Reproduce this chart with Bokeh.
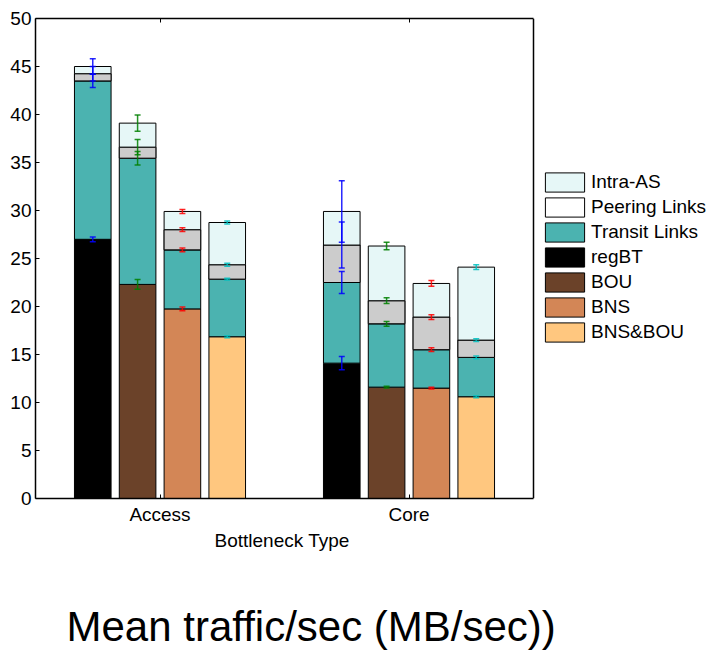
import numpy as np
from bokeh.plotting import figure
from bokeh.models import (ColumnDataSource, Range1d, FixedTicker, LinearAxis,
                          Legend, LegendItem, Title, Whisker, TeeHead, Span)
from bokeh.embed import file_html
from bokeh.resources import INLINE

# ---- data -------------------------------------------------------------
groups = ["Access", "Core"]
schemes = ["regBT", "BOU", "BNS", "BNS&BOU"]

# cumulative top of every stacked layer (MB/sec), one value per scheme
access_base = [27.0, 22.3, 19.75, 16.85]
access_transit = [43.5, 35.45, 25.9, 22.85]
access_peering = [44.25, 36.6, 28.0, 24.35]
access_intra = [45.0, 39.1, 29.9, 28.75]

core_base = [14.1, 11.6, 11.5, 10.6]
core_transit = [22.5, 18.2, 15.5, 14.7]
core_peering = [26.4, 20.6, 18.9, 16.5]
core_intra = [29.9, 26.3, 22.4, 24.1]

# half-length of the error bar drawn at each layer top
access_base_err = [0.25, 0.5, 0.2, 0.1]
access_transit_err = [0.7, 0.7, 0.2, 0.1]
access_peering_err = [0.75, 0.8, 0.2, 0.15]
access_intra_err = [0.8, 0.85, 0.2, 0.15]

core_base_err = [0.7, 0.1, 0.1, 0.1]
core_transit_err = [1.15, 0.25, 0.2, 0.15]
core_peering_err = [2.4, 0.3, 0.25, 0.15]
core_intra_err = [3.2, 0.4, 0.3, 0.25]

# ---- styling ----------------------------------------------------------
FONT = "Liberation Sans"
scheme_colors = ["#000000", "#6B4229", "#D38656", "#FFC77F"]
err_colors = ["#0000FF", "#008000", "#FF0000", "#00BFBF"]
TRANSIT = "#4BB3B0"
PEERING = "#CCCCCC"
INTRA = "#E6F7F7"
offsets = [-0.27, -0.09, 0.09, 0.27]
BAR_W = 0.147

X_LO, X_HI = 0.5, 2.5          # extent of the boxed axes
BOX_W, FRAME_W = 498, 674      # boxed area and full drawing area (px)
x_end = X_LO + (X_HI - X_LO) * FRAME_W / BOX_W   # room for the legend on the right

xs, base, transit, peering, intra, colors = [], [], [], [], [], []
eb, et, ep, ei = [], [], [], []
for gi, (b, t, pe, ia, be, te, pee, iae) in enumerate([
        (access_base, access_transit, access_peering, access_intra,
         access_base_err, access_transit_err, access_peering_err, access_intra_err),
        (core_base, core_transit, core_peering, core_intra,
         core_base_err, core_transit_err, core_peering_err, core_intra_err)]):
    for si in range(len(schemes)):
        xs.append(gi + 1 + offsets[si])
        base.append(b[si]); transit.append(t[si])
        peering.append(pe[si]); intra.append(ia[si])
        eb.append(be[si]); et.append(te[si]); ep.append(pee[si]); ei.append(iae[si])
        colors.append(scheme_colors[si])

src = ColumnDataSource(dict(x=xs, zero=[0] * len(xs), base=base, transit=transit,
                            peering=peering, intra=intra, color=colors))

p = figure(frame_width=FRAME_W, frame_height=480,
           x_range=Range1d(X_LO, x_end), y_range=Range1d(0, 50),
           output_backend="svg", toolbar_location=None,
           min_border_left=35, min_border_right=0, min_border_top=18,
           min_border_bottom=152)
p.xgrid.visible = False
p.ygrid.visible = False
p.outline_line_color = None
p.background_fill_color = "white"
p.border_fill_color = "white"

common = dict(x="x", width=BAR_W, source=src, line_color="black", line_width=1)
r_base = p.vbar(bottom="zero", top="base", fill_color="color", **common)
r_transit = p.vbar(bottom="base", top="transit", fill_color=TRANSIT, **common)
# white under-layer of the peering segment, used as that layer's legend key
r_peer_key = p.vbar(bottom="transit", top="peering", fill_color="white", **common)
r_peer = p.vbar(bottom="transit", top="peering", fill_color=PEERING, **common)
r_intra = p.vbar(bottom="peering", top="intra", fill_color=INTRA, **common)

# error bars, one whisker set per scheme colour
for si in range(len(schemes)):
    idx = [i for i in range(len(xs)) if i % len(schemes) == si]
    ex, up, lo = [], [], []
    for i in idx:
        for top, err in ((base[i], eb[i]), (transit[i], et[i]),
                         (peering[i], ep[i]), (intra[i], ei[i])):
            ex.append(xs[i]); up.append(top + err); lo.append(top - err)
    es = ColumnDataSource(dict(x=ex, upper=up, lower=lo))
    c = err_colors[si]
    w = Whisker(source=es, base="x", upper="upper", lower="lower", dimension="height",
                line_color=c, line_width=1.5, line_alpha=0.85, level="overlay",
                upper_head=TeeHead(size=6, line_color=c, line_width=1.5, line_alpha=0.85),
                lower_head=TeeHead(size=6, line_color=c, line_width=1.5, line_alpha=0.85))
    p.add_layout(w)

# ---- axes -------------------------------------------------------------
def style_axis(ax):
    ax.axis_line_width = 1.5
    ax.major_tick_in = 4
    ax.major_tick_out = 0
    ax.minor_tick_line_color = None
    ax.major_label_text_font = FONT
    ax.major_label_text_font_size = "19px"
    ax.major_label_text_color = "black"

yticks = list(range(0, 51, 5))

yax = p.yaxis[0]
yax.ticker = FixedTicker(ticks=yticks)
style_axis(yax)
yax.major_label_standoff = 4

xax = p.xaxis[0]
xax.ticker = FixedTicker(ticks=[1, 2])
xax.major_label_overrides = {1: groups[0], 2: groups[1]}
xax.bounds = (X_LO, X_HI)
style_axis(xax)
xax.major_label_standoff = 5

# box edge on top: inward ticks only, no labels
top_ax = LinearAxis(ticker=FixedTicker(ticks=[1, 2]), bounds=(X_LO, X_HI))
style_axis(top_ax)
top_ax.major_label_overrides = {1: "", 2: ""}
top_ax.major_label_standoff = 0
p.add_layout(top_ax, "above")

# box edge on the right
p.add_layout(Span(location=X_HI, dimension="height", line_color="black", line_width=1.5))

# x axis title, centred under the boxed area
xlabel = Title(text="Bottleneck Type", text_font=FONT, text_font_size="19px",
               text_font_style="normal", text_color="black", align="left",
               offset=179, standoff=0)
p.add_layout(xlabel, "below")

# ---- legend -----------------------------------------------------------
items = [LegendItem(label="Intra-AS", renderers=[r_intra], index=0),
         LegendItem(label="Peering Links", renderers=[r_peer_key], index=0),
         LegendItem(label="Transit Links", renderers=[r_transit], index=0)]
for si, name in enumerate(schemes):
    items.append(LegendItem(label=name, renderers=[r_base], index=si))
legend = Legend(items=items, location=(505, 154), padding=0, margin=0,
                border_line_color=None, background_fill_alpha=0,
                glyph_width=49, glyph_height=24, label_height=20,
                label_standoff=2, spacing=1,
                label_text_font=FONT, label_text_font_size="19px",
                label_text_color="black")
p.add_layout(legend, "center")

# ---- bottom caption ---------------------------------------------------
cap = Title(text="Mean traffic/sec (MB/sec))", text_font=FONT, text_font_size="42px",
            text_font_style="normal", text_color="black", align="left", offset=31,
            standoff=100)
p.add_layout(cap, "below")

open("out.html", "w").write(file_html(p, INLINE))
